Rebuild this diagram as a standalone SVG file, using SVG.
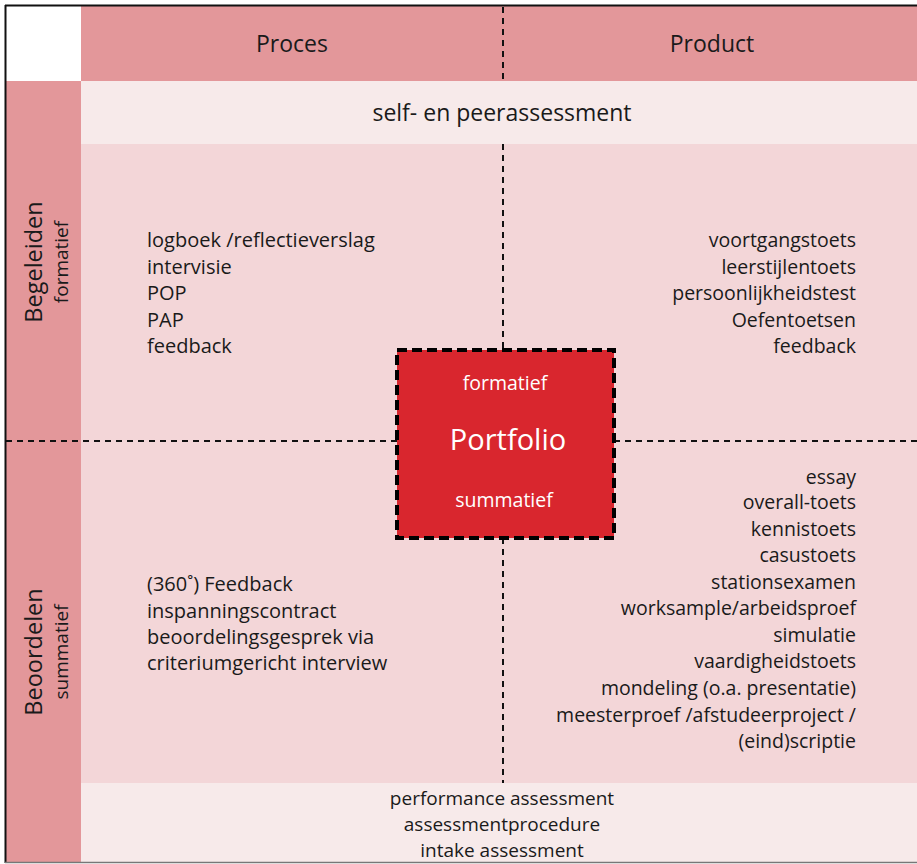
<svg xmlns="http://www.w3.org/2000/svg" width="917" height="864" viewBox="0 0 917 864">
  <style>
    text { font-family: "Open Sans", "Noto Sans", "Liberation Sans", sans-serif; fill: #1a1a1a; }
    .hdr { font-size: 23px; text-anchor: middle; }
    .item { font-size: 19px; }
    .left { font-size: 20px; }
    .r { text-anchor: end; font-size: 19.5px; }
    .c { text-anchor: middle; }
    .side { font-size: 23.5px; text-anchor: middle; }
    .sub { font-size: 19px; text-anchor: middle; }
    .div { stroke: #111; stroke-width: 2; stroke-dasharray: 6 5; fill: none; }
    .pf { fill: #fff; text-anchor: middle; }
  </style>

  <!-- backgrounds -->
  <rect x="0" y="0" width="917" height="864" fill="#ffffff"/>
  <rect x="81" y="6" width="836" height="75" fill="#e3979a"/>
  <rect x="6" y="81" width="75" height="781" fill="#e3979a"/>
  <rect x="81" y="81" width="836" height="63" fill="#f7eaea"/>
  <rect x="81" y="144" width="836" height="639" fill="#f3d6d8"/>
  <rect x="81" y="783" width="836" height="79" fill="#f7eaea"/>

  <!-- frame -->
  <line x1="5.5" y1="5" x2="5.5" y2="863" stroke="#111" stroke-width="2"/>
  <line x1="5" y1="5.5" x2="917" y2="5.5" stroke="#111" stroke-width="2"/>
  <line x1="5" y1="862.5" x2="917" y2="862.5" stroke="#777" stroke-width="1.5"/>

  <!-- quadrant dividers -->
  <g id="connectors">
    <line class="div" x1="503" y1="7" x2="503" y2="81"/>
    <line class="div" x1="503" y1="144" x2="503" y2="350"/>
    <line class="div" x1="503" y1="538" x2="503" y2="783"/>
    <line class="div" x1="6" y1="441" x2="397" y2="441"/>
    <line class="div" x1="614" y1="441" x2="917" y2="441"/>
  </g>

  <g id="header-proces"><text class="hdr" x="292" y="52">Proces</text></g>
  <g id="header-product"><text class="hdr" x="712" y="52">Product</text></g>
  <g id="self-peer"><text class="hdr" x="502" y="121">self- en peerassessment</text></g>

  <g id="row-begeleiden">
    <text class="side" transform="translate(42 262) rotate(-90)">Begeleiden</text>
    <text class="sub" transform="translate(68 262) rotate(-90)">formatief</text>
  </g>
  <g id="row-beoordelen">
    <text class="side" transform="translate(42 652) rotate(-90)">Beoordelen</text>
    <text class="sub" transform="translate(68 652) rotate(-90)">summatief</text>
  </g>

  <g id="proces-formatief" class="item left">
    <text x="147" y="247">logboek /reflectieverslag</text>
    <text x="147" y="274">intervisie</text>
    <text x="147" y="300">POP</text>
    <text x="147" y="327">PAP</text>
    <text x="147" y="353">feedback</text>
  </g>

  <g id="product-formatief" class="item r">
    <text x="856" y="247">voortgangstoets</text>
    <text x="856" y="274">leerstijlentoets</text>
    <text x="856" y="300">persoonlijkheidstest</text>
    <text x="856" y="327">Oefentoetsen</text>
    <text x="856" y="353">feedback</text>
  </g>

  <g id="proces-summatief" class="item left">
    <text x="147" y="591">(360˚) Feedback</text>
    <text x="147" y="618">inspanningscontract</text>
    <text x="147" y="644">beoordelingsgesprek via</text>
    <text x="147" y="670">criteriumgericht interview</text>
  </g>

  <g id="product-summatief" class="item r">
    <text x="856" y="484">essay</text>
    <text x="856" y="509">overall-toets</text>
    <text x="856" y="536">kennistoets</text>
    <text x="856" y="562">casustoets</text>
    <text x="856" y="589">stationsexamen</text>
    <text x="856" y="615">worksample/arbeidsproef</text>
    <text x="856" y="642">simulatie</text>
    <text x="856" y="668">vaardigheidstoets</text>
    <text x="856" y="695">mondeling (o.a. presentatie)</text>
    <text x="856" y="722">meesterproef /afstudeerproject /</text>
    <text x="856" y="748">(eind)scriptie</text>
  </g>

  <g id="assessment-band" class="item c">
    <text x="502" y="805">performance assessment</text>
    <text x="502" y="831">assessmentprocedure</text>
    <text x="502" y="857">intake assessment</text>
  </g>

  <g id="portfolio">
    <rect x="397" y="350" width="217" height="188" fill="#d9262e" stroke="#000" stroke-width="4" stroke-dasharray="10 5"/>
    <text class="pf" x="505" y="390" style="font-size:19.5px">formatief</text>
    <text class="pf" x="508" y="450" style="font-size:29px">Portfolio</text>
    <text class="pf" x="504" y="507" style="font-size:19.5px">summatief</text>
  </g>
</svg>
